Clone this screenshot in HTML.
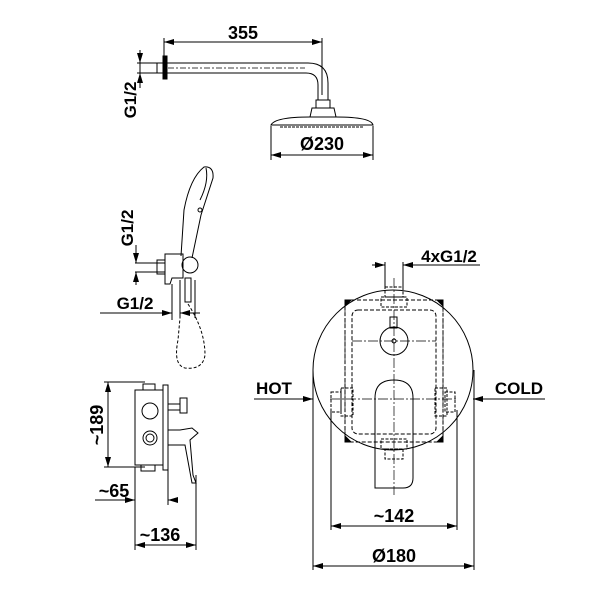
<!DOCTYPE html>
<html><head><style>body{margin:0;background:#fff}svg{display:block}text{font-family:"Liberation Sans",Arial,sans-serif;font-weight:bold;fill:#000}</style></head><body>
<svg width="600" height="600" viewBox="0 0 600 600" xmlns="http://www.w3.org/2000/svg">
<defs>
<marker id="a" viewBox="0 0 10 6" refX="10" refY="3" markerWidth="10" markerHeight="6" orient="auto-start-reverse" markerUnits="userSpaceOnUse"><path d="M0,0L10,3L0,6z" fill="#000"/></marker>
</defs>
<g stroke="#000" fill="none" stroke-width="1">
<line x1="164" y1="38" x2="164" y2="58"/><line x1="322" y1="38" x2="322" y2="95"/>
<line x1="164" y1="42" x2="322" y2="42" marker-start="url(#a)" marker-end="url(#a)"/>
<rect x="163" y="56" width="4" height="23" fill="#000"/>
<rect x="157" y="63" width="6" height="10"/>
<path d="M167,63 H308 Q328,63 328,83 V100 M167,73 H306 Q318,73 318,85 V100"/>
<line x1="168" y1="68" x2="305" y2="68" stroke-dasharray="6,2,2,2" stroke-width="0.7"/>
<rect x="316" y="100" width="14" height="8"/>
<path d="M312,108 H334 L336,117 H310 Z"/>
<path d="M271,125 Q275,117 310,117 H336 Q371,117 373,125 Z"/>
<line x1="280" y1="127" x2="364" y2="127" stroke-dasharray="3,1"/>
<line x1="271" y1="126" x2="271" y2="160"/><line x1="373" y1="126" x2="373" y2="160"/>
<line x1="271" y1="155" x2="373" y2="155" marker-start="url(#a)" marker-end="url(#a)"/>
<line x1="137" y1="63" x2="157" y2="63"/><line x1="137" y1="73" x2="157" y2="73"/>
<line x1="140" y1="50" x2="140" y2="63" marker-end="url(#a)"/>
<line x1="140" y1="88" x2="140" y2="73" marker-end="url(#a)"/>
<line x1="140" y1="63" x2="140" y2="73"/>
<line x1="135" y1="263" x2="165" y2="263"/><line x1="135" y1="272" x2="165" y2="272"/>
<line x1="136" y1="245" x2="136" y2="263" marker-end="url(#a)"/>
<line x1="136" y1="285" x2="136" y2="272" marker-end="url(#a)"/>
<rect x="157" y="260" width="8" height="14"/>
<path d="M165,254 H183 V278 H172 L170,284 H165 Z"/>
<circle cx="190" cy="265" r="8"/>
<path d="M181,256 L184,210 Q190,178 204,167 Q214,166 213,178 L201,215 L192,258"/>
<path d="M206,168 Q209,182 200,200"/>
<circle cx="200" cy="210" r="2"/>
<rect x="185" y="278" width="6" height="24"/>
<line x1="172" y1="284" x2="172" y2="320"/><line x1="180" y1="280" x2="180" y2="318"/>
<line x1="195" y1="280" x2="195" y2="318"/>
<line x1="100" y1="313" x2="172" y2="313" marker-end="url(#a)"/>
<line x1="200" y1="313" x2="180" y2="313" marker-end="url(#a)"/>
<path d="M188,304 Q205,330 205,355 Q203,370 185,368 Q173,365 178,340 L180,318" stroke-dasharray="3,2"/>
<line x1="104" y1="382" x2="145" y2="382"/><line x1="104" y1="467" x2="145" y2="467"/>
<line x1="108" y1="382" x2="108" y2="467" marker-start="url(#a)" marker-end="url(#a)"/>
<rect x="135" y="390" width="28" height="75"/>
<rect x="143" y="384" width="12" height="6"/><rect x="141" y="465" width="14" height="6"/>
<rect x="163" y="385" width="5" height="85"/>
<circle cx="150" cy="411" r="8"/><circle cx="150" cy="438" r="7"/><circle cx="150" cy="438" r="4"/>
<path d="M168,404 H180 M168,410 H180 M180,398 H187 V413 H180 Z"/>
<path d="M168,430 H180 L192,428 L198,433 L190,440 L193,475 L196,483 L192,483 L185,445 L168,445"/>
<line x1="135" y1="467" x2="135" y2="550"/><line x1="196" y1="475" x2="196" y2="550"/>
<line x1="168" y1="470" x2="168" y2="505"/>
<line x1="95" y1="500" x2="135" y2="500" marker-end="url(#a)"/>
<line x1="178" y1="500" x2="168" y2="500" marker-end="url(#a)"/>
<line x1="135" y1="545" x2="196" y2="545" marker-start="url(#a)" marker-end="url(#a)"/>
<circle cx="393" cy="370" r="80"/>
<rect x="345" y="300" width="98" height="142" rx="6" stroke-dasharray="4,2"/>
<rect x="352" y="310" width="84" height="124" rx="6" stroke-dasharray="4,2"/>
<circle cx="394" cy="341" r="14"/><circle cx="394" cy="341" r="2"/>
<rect x="390" y="317" width="7" height="11"/>
<path d="M375,488 V398 Q375,380 394,380 Q413,380 413,398 V478 Q413,488 403,488 H385 Q375,488 375,488Z"/>
<g stroke-dasharray="3,1.5"><rect x="385" y="287" width="18" height="10"/><rect x="381" y="297" width="26" height="10"/>
<rect x="381" y="439" width="26" height="10"/><rect x="385" y="449" width="18" height="10"/>
<rect x="331" y="392" width="10" height="20"/><rect x="341" y="388" width="12" height="28"/>
<rect x="445" y="392" width="10" height="20"/><rect x="435" y="388" width="12" height="28"/></g>
<g stroke-dasharray="10,2,2,2" stroke-width="0.7"><line x1="394" y1="278" x2="394" y2="495"/><line x1="330" y1="399" x2="458" y2="399"/>
<line x1="345" y1="302" x2="345" y2="440"/><line x1="443" y1="302" x2="443" y2="440"/><line x1="352" y1="341" x2="436" y2="341"/></g>
<path d="M345,300 l6,0 l-6,6 z M443,300 l-6,0 l6,6z M345,442 l6,0 l-6,-6z M443,442 l-6,0 l6,-6z" fill="#000"/>
<line x1="385" y1="262" x2="385" y2="288"/><line x1="403" y1="262" x2="403" y2="288"/>
<line x1="372" y1="265" x2="385" y2="265" marker-end="url(#a)"/>
<line x1="480" y1="265" x2="403" y2="265" marker-end="url(#a)"/>
<line x1="254" y1="399" x2="313" y2="399" marker-end="url(#a)"/>
<line x1="545" y1="399" x2="473" y2="399" marker-end="url(#a)"/>
<line x1="313" y1="370" x2="313" y2="570"/><line x1="474" y1="370" x2="474" y2="570"/>
<line x1="331" y1="410" x2="331" y2="530"/><line x1="457" y1="410" x2="457" y2="530"/>
<line x1="331" y1="526" x2="457" y2="526" marker-start="url(#a)" marker-end="url(#a)"/>
<line x1="313" y1="566" x2="474" y2="566" marker-start="url(#a)" marker-end="url(#a)"/>
</g>
<text x="243" y="39" font-size="18" text-anchor="middle">355</text>
<text x="322" y="150" font-size="18" text-anchor="middle">Ø230</text>
<text transform="translate(136,100) rotate(-90)" font-size="17" text-anchor="middle">G1/2</text>
<text transform="translate(133,228) rotate(-90)" font-size="17" text-anchor="middle">G1/2</text>
<text x="135" y="309" font-size="17" text-anchor="middle">G1/2</text>
<text transform="translate(103,425) rotate(-90)" font-size="18" text-anchor="middle">~189</text>
<text x="114" y="497" font-size="18" text-anchor="middle">~65</text>
<text x="160" y="541" font-size="18" text-anchor="middle">~136</text>
<text x="449" y="262" font-size="17" text-anchor="middle">4xG1/2</text>
<text x="274" y="394" font-size="17" text-anchor="middle">HOT</text>
<text x="519" y="394" font-size="17" text-anchor="middle">COLD</text>
<text x="394" y="522" font-size="18" text-anchor="middle">~142</text>
<text x="394" y="562" font-size="18" text-anchor="middle">Ø180</text>
</svg>
</body></html>
